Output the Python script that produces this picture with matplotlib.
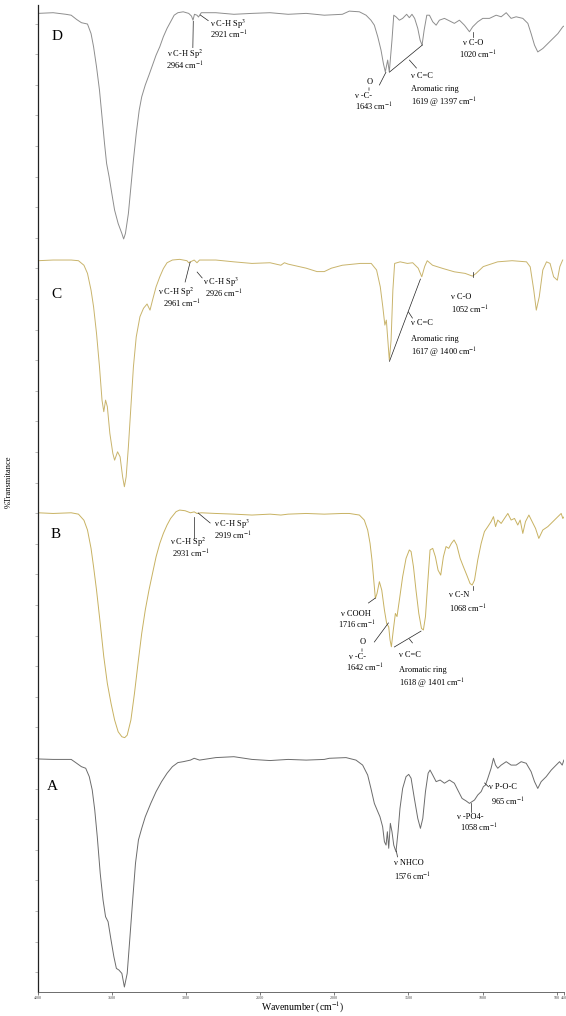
import numpy as np
import matplotlib
matplotlib.use('Agg')
import matplotlib.pyplot as plt

plt.rcParams['font.family'] = ['Liberation Serif', 'DejaVu Serif']
plt.rcParams['mathtext.fontset'] = 'stix'

# spectra: wavenumber (cm-1) and relative transmittance (0-100 per trace)
wn_A = [4000, 3898, 3776, 3739, 3707, 3678, 3654, 3634, 3617, 3600, 3580, 3561, 3544, 3527, 3507, 3488,
        3471, 3454, 3434, 3417, 3398, 3381, 3361, 3342, 3322, 3300, 3276, 3239, 3203, 3166, 3129, 3093,
        3056, 3020, 2971, 2946, 2910, 2800, 2678, 2556, 2434, 2312, 2190, 2068, 2034, 1921, 1854, 1809,
        1775, 1753, 1730, 1707, 1692, 1674, 1662, 1651, 1642, 1633, 1622, 1611, 1599, 1584, 1570, 1557,
        1539, 1516, 1498, 1482, 1460, 1437, 1419, 1403, 1385, 1367, 1354, 1336, 1313, 1286, 1257, 1223,
        1190, 1167, 1138, 1111, 1088, 1070, 1054, 1032, 1009, 994, 980, 964, 942, 926, 912, 897,
        874, 840, 807, 773, 739, 705, 672, 649, 627, 604, 570, 536, 503, 480, 462, 451]
t_A = [100.6, 100.4, 100.4, 98.7, 97.2, 96.5, 92.8, 86.9, 78.1, 66.3, 50.1, 38.4, 31.0, 28.8, 20.7, 13.4,
       8.2, 7.5, 6.0, 0.0, 6.0, 20.7, 38.4, 54.6, 64.9, 70.0, 75.1, 81.0, 86.2, 90.6, 94.3, 97.2,
       99.0, 99.4, 100.1, 100.9, 100.1, 101.2, 101.6, 100.4, 99.9, 100.4, 100.1, 100.4, 100.9, 101.2, 100.1, 97.9,
       93.5, 87.6, 81.0, 77.4, 75.1, 70.7, 64.1, 62.6, 68.5, 61.2, 72.2, 68.5, 62.6, 59.7, 68.5, 78.8,
       87.6, 92.8, 93.8, 92.1, 83.2, 74.4, 70.0, 74.4, 86.2, 94.3, 95.7, 93.5, 90.6, 91.3, 89.9, 91.3,
       89.9, 86.9, 83.2, 82.1, 81.0, 81.8, 82.5, 84.7, 86.2, 88.4, 89.1, 92.1, 96.5, 100.9, 97.9, 96.5,
       97.9, 99.4, 97.9, 97.9, 99.4, 98.7, 95.0, 90.6, 87.6, 90.6, 92.8, 95.7, 97.9, 99.4, 97.9, 100.1]

wn_B = [4000, 3898, 3776, 3727, 3690, 3666, 3642, 3625, 3605, 3580, 3556, 3532, 3507, 3483, 3459, 3434,
        3415, 3398, 3373, 3349, 3325, 3300, 3276, 3251, 3227, 3203, 3178, 3154, 3129, 3105, 3068, 3044,
        3007, 2971, 2946, 2927, 2898, 2800, 2678, 2556, 2434, 2361, 2312, 2190, 2068, 1946, 1899, 1831,
        1798, 1775, 1759, 1746, 1734, 1723, 1712, 1696, 1680, 1662, 1647, 1633, 1624, 1615, 1602, 1588,
        1577, 1561, 1539, 1516, 1494, 1482, 1466, 1449, 1430, 1412, 1399, 1385, 1370, 1354, 1336, 1318,
        1300, 1282, 1264, 1246, 1228, 1210, 1192, 1174, 1151, 1129, 1106, 1084, 1070, 1054, 1032, 1009,
        987, 964, 942, 926, 912, 897, 874, 852, 829, 807, 784, 762, 746, 728, 710, 687,
        665, 642, 620, 593, 559, 525, 491, 469, 458, 440]
t_B = [99.2, 98.9, 99.2, 98.6, 95.9, 91.6, 83.5, 75.4, 65.1, 50.4, 35.7, 23.9, 15.1, 7.8, 2.6, 0.4,
       0.0, 1.1, 7.8, 19.5, 32.8, 46.0, 56.3, 65.1, 72.5, 79.8, 85.7, 90.1, 93.8, 96.7, 99.7, 100.4,
       100.1, 99.2, 99.6, 98.9, 99.2, 98.9, 98.6, 98.2, 98.6, 98.2, 98.6, 98.9, 98.6, 98.9, 98.9, 98.2,
       96.0, 91.6, 85.7, 78.4, 69.5, 61.4, 63.6, 68.8, 65.1, 56.3, 50.4, 48.9, 43.1, 40.1, 47.5, 54.8,
       53.4, 60.7, 71.0, 79.1, 82.8, 82.1, 75.4, 65.1, 54.8, 48.2, 47.5, 53.4, 68.0, 82.8, 83.5, 79.8,
       73.9, 71.7, 79.8, 84.3, 83.5, 85.7, 87.2, 85.0, 79.1, 75.4, 71.7, 68.0, 67.3, 69.5, 78.4, 85.7,
       90.9, 93.1, 95.3, 97.5, 93.1, 96.0, 94.5, 96.7, 98.9, 96.0, 96.7, 93.8, 96.0, 90.1, 95.3, 98.2,
       95.3, 92.3, 87.9, 91.6, 93.1, 95.3, 97.5, 98.9, 96.7, 98.2]

wn_C = [4000, 3898, 3776, 3727, 3690, 3666, 3642, 3625, 3605, 3585, 3568, 3556, 3544, 3532, 3515, 3495,
        3483, 3463, 3446, 3429, 3417, 3405, 3390, 3373, 3356, 3337, 3312, 3288, 3264, 3244, 3227, 3203,
        3178, 3154, 3129, 3093, 3044, 2995, 2983, 2971, 2946, 2927, 2910, 2800, 2678, 2556, 2434, 2361,
        2337, 2312, 2190, 2117, 2068, 2020, 1946, 1825, 1751, 1715, 1690, 1673, 1659, 1649, 1639, 1629,
        1617, 1605, 1593, 1556, 1507, 1471, 1434, 1410, 1390, 1373, 1337, 1264, 1190, 1117, 1068, 1043,
        995, 898, 800, 703, 678, 654, 637, 617, 593, 568, 544, 520, 495, 478, 459]
t_C = [100.4, 100.7, 100.7, 100.4, 98.4, 94.8, 87.4, 80.1, 68.3, 53.6, 38.9, 33.8, 38.9, 36.0, 24.2, 15.4,
       12.4, 16.1, 13.9, 5.1, 0.7, 5.1, 18.3, 36.0, 53.6, 66.8, 75.7, 79.4, 81.3, 78.6, 83.0, 88.9,
       93.3, 96.9, 99.5, 100.7, 101.0, 100.4, 99.5, 99.9, 100.7, 99.5, 100.7, 100.7, 99.9, 99.2, 99.5, 98.4,
       99.5, 98.9, 97.1, 95.6, 95.6, 97.1, 98.4, 99.2, 99.2, 96.3, 88.9, 80.1, 72.0, 74.2, 65.4, 56.6,
       65.4, 87.4, 99.2, 99.9, 99.2, 99.5, 97.1, 93.3, 97.9, 100.4, 98.4, 96.9, 95.5, 94.8, 93.6, 94.8,
       97.8, 99.9, 100.4, 99.9, 97.7, 87.4, 78.6, 84.5, 96.3, 99.9, 99.2, 93.3, 91.8, 97.8, 100.7]

wn_D = [4000, 3898, 3812, 3776, 3739, 3707, 3666, 3642, 3625, 3605, 3585, 3568, 3551, 3537, 3520, 3502,
        3483, 3459, 3434, 3422, 3410, 3390, 3373, 3356, 3337, 3317, 3300, 3276, 3251, 3227, 3203, 3178,
        3154, 3129, 3105, 3081, 3056, 3020, 2983, 2964, 2954, 2944, 2927, 2917, 2898, 2800, 2678, 2556,
        2434, 2312, 2190, 2068, 1946, 1899, 1831, 1786, 1753, 1730, 1707, 1685, 1669, 1656, 1640, 1629,
        1611, 1599, 1584, 1561, 1539, 1512, 1494, 1476, 1458, 1437, 1421, 1408, 1394, 1376, 1358, 1336,
        1313, 1291, 1257, 1223, 1190, 1156, 1122, 1088, 1066, 1032, 998, 953, 908, 874, 840, 807,
        773, 728, 694, 672, 649, 627, 593, 559, 525, 491, 458, 440]
t_D = [99.5, 99.8, 99.1, 98.7, 96.8, 95.4, 94.8, 90.6, 84.8, 75.9, 65.6, 53.9, 42.1, 33.3, 27.4, 20.1,
       12.7, 6.8, 2.4, 0.0, 2.4, 11.2, 23.0, 34.8, 46.5, 56.8, 62.7, 67.9, 72.3, 76.7, 81.1, 84.8,
       89.2, 92.9, 95.8, 98.7, 99.8, 100.2, 99.5, 98.3, 96.5, 99.1, 98.7, 97.9, 99.8, 99.8, 99.1, 99.5,
       99.8, 99.1, 99.5, 98.7, 99.1, 100.5, 100.2, 98.7, 96.5, 94.3, 89.2, 83.3, 77.4, 73.7, 78.9, 73.7,
       87.7, 98.7, 98.0, 96.5, 97.3, 99.1, 97.6, 99.1, 97.3, 92.9, 87.7, 85.5, 92.1, 98.7, 98.7, 95.8,
       94.3, 96.5, 97.3, 96.2, 95.1, 96.5, 94.3, 91.4, 93.6, 95.8, 97.3, 97.3, 98.7, 98.0, 99.8, 97.3,
       98.0, 97.3, 95.1, 90.6, 85.5, 82.5, 84.0, 86.2, 88.4, 90.6, 93.6, 94.3]

x_ticks = [4000, 3500, 3000, 2500, 2000, 1500, 1000, 500, 450]

traces = [('A', wn_A, t_A, 0, '#6c6c6c'),
          ('B', wn_B, t_B, 110, '#c8b262'),
          ('C', wn_C, t_C, 220, '#c9b46c'),
          ('D', wn_D, t_D, 330, '#8e8e8e')]

CM = r'cm$^{-1}$'

# (wavenumber, y, text) -- left aligned band labels
notes = [
    # D
    (3128, 411.6, r'ν C-H Sp$^2$'), (3135, 406.5, '2964 ' + CM),
    (2838, 424.9, r'ν C-H Sp$^3$'), (2838, 419.8, '2921 ' + CM),
    (1858, 393.0, 'ν -C-'), (1858, 388.3, '1643 ' + CM),
    (1480, 401.9, 'ν C=C'), (1480, 396.1, 'Aromatic ring'), (1480, 390.0, '1619 @ 1397 ' + CM),
    (1135, 416.6, 'ν C-O'), (1162, 411.0, '1020 ' + CM),
    # C
    (3189, 306.4, r'ν C-H Sp$^2$'), (3155, 301.2, '2961 ' + CM),
    (2885, 310.8, r'ν C-H Sp$^3$'), (2872, 305.8, '2926 ' + CM),
    (1480, 292.9, 'ν C=C'), (1480, 285.9, 'Aromatic ring'), (1480, 279.7, '1617 @ 1400 ' + CM),
    (1216, 304.6, 'ν C-O'), (1216, 298.6, '1052 ' + CM),
    # B
    (3108, 196.2, r'ν C-H Sp$^2$'), (3094, 191.2, '2931 ' + CM),
    (2811, 204.1, r'ν C-H Sp$^3$'), (2811, 199.1, '2919 ' + CM),
    (1953, 164.7, 'ν COOH'), (1973, 159.9, '1716 ' + CM),
    (1898, 145.6, 'ν -C-'), (1919, 140.6, '1642 ' + CM),
    (1561, 146.5, 'ν C=C'), (1561, 139.9, 'Aromatic ring'), (1561, 133.7, '1618 @ 1401 ' + CM),
    (1223, 173.0, 'ν C-N'), (1223, 166.6, '1068 ' + CM),
    # A
    (1595, 54.8, 'ν NHCO'), (1595, 48.4, '1576 ' + CM),
    (1169, 75.1, 'ν -PO4-'), (1155, 70.0, '1058 ' + CM),
    (959, 88.4, 'ν P-O-C'), (946, 81.5, '965 ' + CM),
]

# pointer lines: (wn1, y1, wn2, y2)
pointers = [
    (2955, 414.4, 2952, 426.0), (2851, 426.3, 2905, 428.8),
    (1696, 397.9, 1652, 403.5), (1628, 403.6, 1405, 415.6), (1493, 408.9, 1446, 405.4),
    (1067, 421.3, 1067, 419.0),
    (3007, 311.0, 2973, 319.8), (2892, 312.8, 2926, 315.4),
    (1628, 276.0, 1419, 312.3), (1500, 297.8, 1473, 295.1), (1067, 315.4, 1067, 313.2),
    (2946, 198.1, 2946, 207.3), (2838, 204.7, 2919, 209.1),
    (1770, 169.4, 1723, 171.6), (1730, 152.2, 1635, 160.6),
    (1595, 150.0, 1415, 157.0), (1493, 153.5, 1473, 151.8), (1067, 176.9, 1067, 175.1),
    (1574, 57.4, 1581, 60.0), (1081, 81.2, 1081, 77.2), (959, 88.3, 986, 90.0),
]

# carbonyl "O / = " marks above "-C-"
carbonyl = [(1763, 399.4, 396.5), (1811, 152.0, 148.9)]

fig = plt.figure(figsize=(5.66, 10.16), dpi=100)
ax = fig.add_axes([38 / 566, 24 / 1016, 526 / 566, 987 / 1016])

for name, wn, t, off, col in traces:
    ax.plot(wn, np.array(t) + off, color=col, lw=0.7)

label_pos = {'A': (3905, 88.3), 'B': (3878, 199.8), 'C': (3878, 305.3), 'D': (3872, 419.1)}
for name, (xx, yy) in label_pos.items():
    ax.text(xx, yy, name, fontsize=11, ha='center', va='center')

for xx, yy, txt in notes:
    ax.text(xx, yy, txt, fontsize=6, ha='left', va='center')

for x1, y1, x2, y2 in pointers:
    ax.plot([x1, x2], [y1, y2], color='#222222', lw=0.5)

for xx, yo, ye in carbonyl:
    ax.text(xx, yo, 'O', fontsize=6, ha='center', va='center')
    ax.text(xx, ye, '=', fontsize=5, ha='center', va='center', rotation=90)

ax.set_xlim(4000, 450)
ax.set_ylim(-2.2, 433.2)
ax.set_xticks(x_ticks)
ax.set_xticklabels([str(v) for v in x_ticks])
ax.set_yticks(np.arange(6.5, 433, 13.5))
ax.set_yticklabels([])
ax.tick_params(axis='x', length=2, width=0.5, labelsize=3, pad=1, colors='#444444')
ax.tick_params(axis='y', length=2, width=0.4, colors='#888888')
for s in ['top', 'right']:
    ax.spines[s].set_visible(False)
ax.spines['left'].set_linewidth(0.9)
ax.spines['left'].set_color('#222222')
ax.spines['bottom'].set_linewidth(0.6)
ax.spines['bottom'].set_color('#555555')

fig.text(303 / 566, 1 - 1007 / 1016, 'Wavenumber (cm$^{-1}$)', fontsize=7, ha='center', va='center')
fig.text(9 / 566, 1 - 482 / 1016, '%Transmitance', fontsize=6, ha='center', va='center', rotation=90)

fig.savefig('out.png', dpi=100)
